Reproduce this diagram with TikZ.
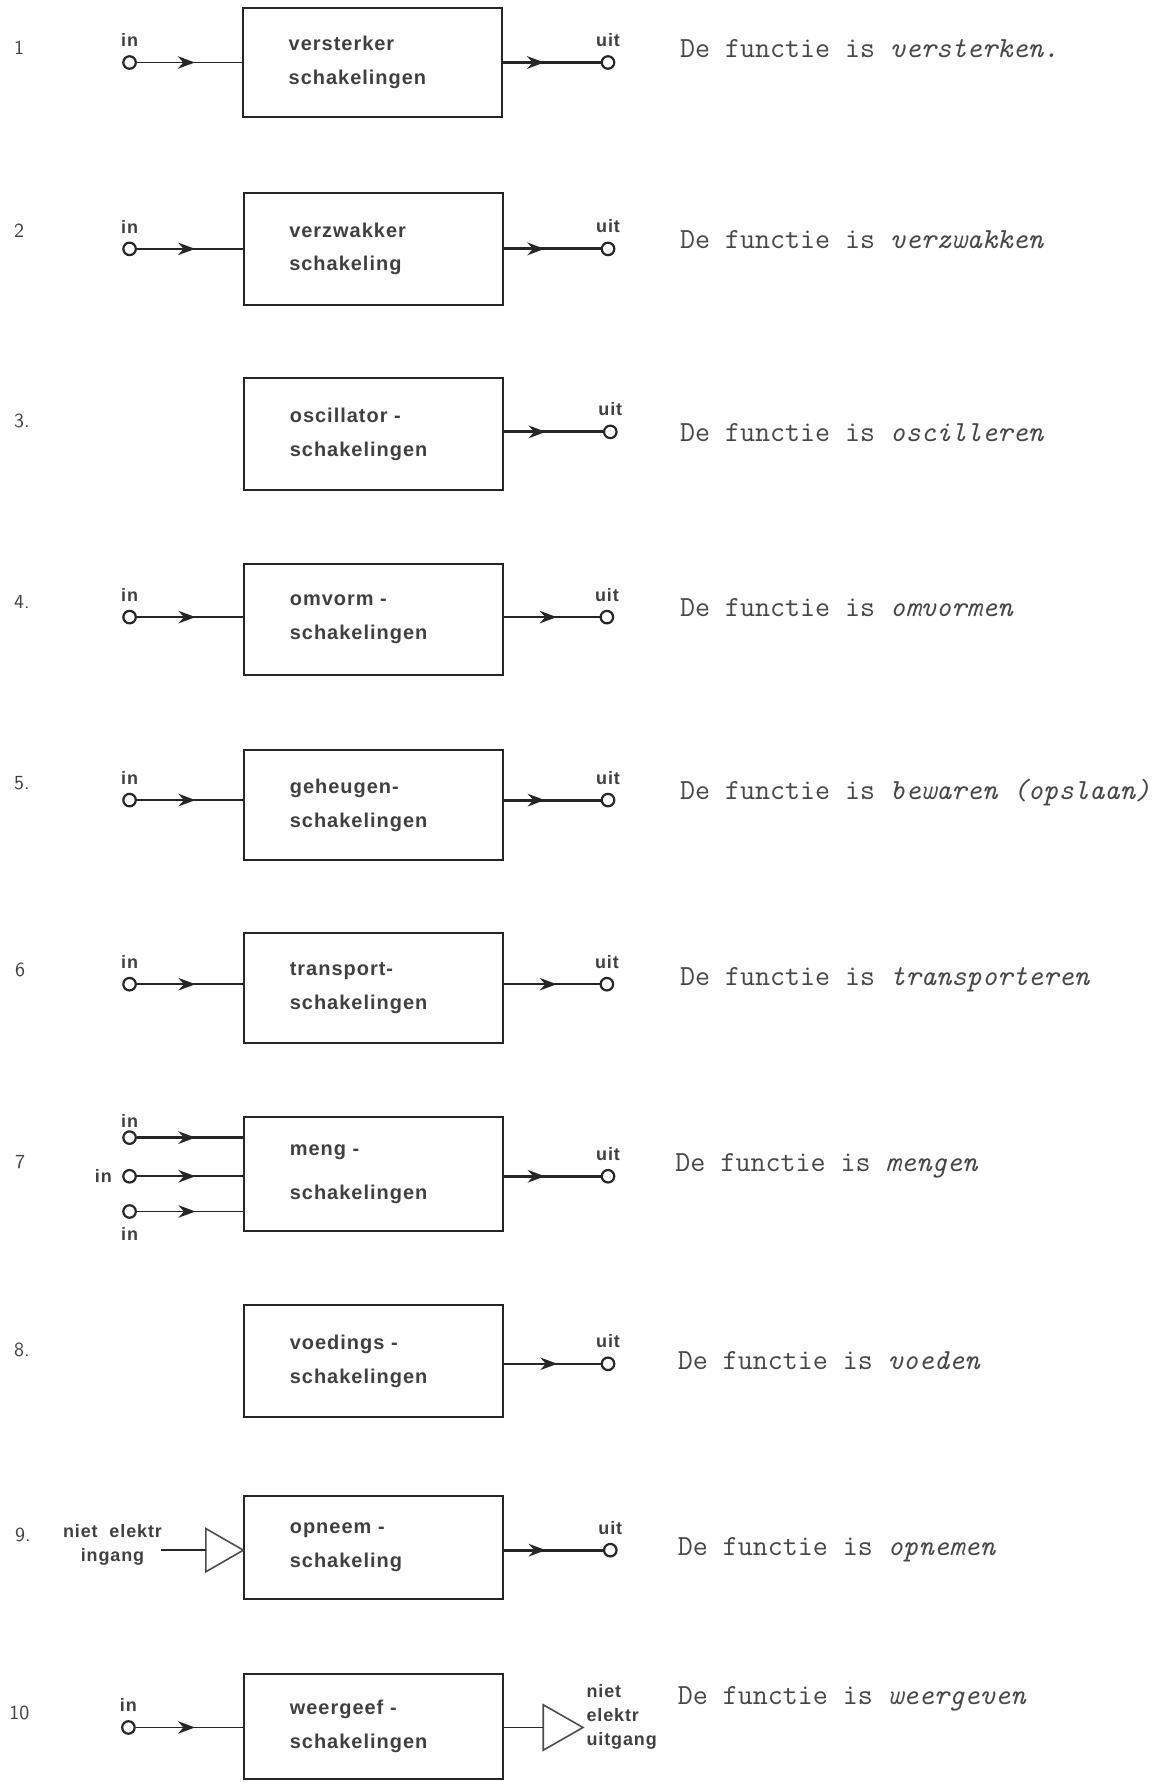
\documentclass[tikz,border=0pt]{standalone}
\usepackage{fontspec}
\newfontfamily\blokfont[LetterSpace=5]{Liberation Sans}
\usetikzlibrary{arrows.meta,decorations.markings,shapes.geometric}

\tikzset{
  blok/.style={draw=black!85, line width=1pt, minimum width=4.56cm, minimum height=#1,
    text width=2.96cm, inner xsep=0.8cm, align=left, text=black!75,
    font=\blokfont\bfseries\fontsize{10}{17}\selectfont},
  blok/.default=1.95cm,
  klem/.style={circle, draw=black!85, line width=1.1pt, minimum size=0.22cm, inner sep=0pt},
  lbl/.style={font=\blokfont\bfseries\fontsize{9}{12}\selectfont, text=black!75, inner sep=1pt},
  nr/.style={anchor=mid west, inner xsep=0pt, font=\sffamily\fontsize{10}{12}\selectfont, text=black!75},
  functie/.style={anchor=mid west, inner xsep=0pt, font=\ttfamily\fontsize{14.6}{16}\selectfont, text=black!72},
  ingang/.style={draw=black!85, line width=0.8pt, postaction={decorate},
    decoration={markings, mark=at position 0.55 with {\arrow{Stealth[length=3mm,width=2.2mm]}}}},
  uitgang/.style={draw=black!85, line width=1.5pt, postaction={decorate},
    decoration={markings, mark=at position 0.42 with {\arrow{Stealth[length=3mm,width=2.2mm]}}}},
  omzetter/.style={isosceles triangle, isosceles triangle stretches, draw=black!70,
    line width=0.8pt, inner sep=0pt, outer sep=0pt, minimum height=#1, minimum width=0.76cm},
  omzetter/.default=0.66cm,
  label distance=3pt
}

\begin{document}
\begin{tikzpicture}[x=0.02cm, y=-0.02cm]
\useasboundingbox (0,0) rectangle (1023,1568);

% 1 versterker
\node[nr] (nr1) at (12,44) {1};
\node[blok=1.92cm] (blok1) at (328,55) {versterker\\schakelingen};
\node[klem, label={[lbl]above:in}] (in1) at (114,55) {};
\node[klem, label={[lbl]above:uit}] (uit1) at (535,55) {};
\draw[ingang] (in1) -- (in1 -| blok1.west);
\draw[uitgang] (uit1 -| blok1.east) -- (uit1);
\node[functie] (f1) at (598,47) {De functie is \textit{versterken.}};

% 2 verzwakker
\node[nr] (nr2) at (12,205) {2};
\node[blok=1.96cm] (blok2) at (328.5,219) {verzwakker\\schakeling};
\node[klem, label={[lbl]above:in}] (in2) at (114,219) {};
\node[klem, label={[lbl]above:uit}] (uit2) at (535,219) {};
\draw[ingang] (in2) -- (in2 -| blok2.west);
\draw[uitgang] (uit2 -| blok2.east) -- (uit2);
\node[functie] (f2) at (598,215) {De functie is \textit{verzwakken}};

% 3 oscillator
\node[nr] (nr3) at (12,372) {3.};
\node[blok=1.96cm] (blok3) at (329,382) {oscillator -\\schakelingen};
\node[klem, label={[lbl]above:uit}] (uit3) at (537,380) {};
\draw[uitgang] (uit3 -| blok3.east) -- (uit3);
\node[functie] (f3) at (598,385) {De functie is \textit{oscilleren}};

% 4 omvorm
\node[nr] (nr4) at (12,532) {4.};
\node[blok=1.96cm] (blok4) at (329,545) {omvorm -\\schakelingen};
\node[klem, label={[lbl]above:in}] (in4) at (114,543) {};
\node[klem, label={[lbl]above:uit}] (uit4) at (534,543) {};
\draw[ingang] (in4) -- (in4 -| blok4.west);
\draw[ingang] (uit4 -| blok4.east) -- (uit4);
\node[functie] (f4) at (598,539) {De functie is \textit{omvormen}};

% 5 geheugen
\node[nr] (nr5) at (12,691) {5.};
\node[blok=1.94cm] (blok5) at (329,708.5) {geheugen-\\schakelingen};
\node[klem, label={[lbl]above:in}] (in5) at (114,704) {};
\node[klem, label={[lbl]above:uit}] (uit5) at (535,704) {};
\draw[ingang] (in5) -- (in5 -| blok5.west);
\draw[uitgang] (uit5 -| blok5.east) -- (uit5);
\node[functie] (f5) at (598,700) {De functie is \textit{bewaren (opslaan)}};

% 6 transport
\node[nr] (nr6) at (13,855) {6};
\node[blok=1.94cm] (blok6) at (329,869.5) {transport-\\schakelingen};
\node[klem, label={[lbl]above:in}] (in6) at (114,866) {};
\node[klem, label={[lbl]above:uit}] (uit6) at (534,866) {};
\draw[ingang] (in6) -- (in6 -| blok6.west);
\draw[ingang] (uit6 -| blok6.east) -- (uit6);
\node[functie] (f6) at (598,863) {De functie is \textit{transporteren}};

% 7 meng
\node[nr] (nr7) at (13,1024) {7};
\node[blok=2cm] (blok7) at (329,1033) {meng -\\[5pt]schakelingen};
\node[klem, label={[lbl, label distance=0pt]above:in}] (in7a) at (114,1001) {};
\node[klem, label={[lbl, label distance=4pt]left:in}] (in7b) at (114,1035) {};
\node[klem, label={[lbl]below:in}] (in7c) at (114,1066) {};
\node[klem, label={[lbl]above:uit}] (uit7) at (535,1035) {};
\draw[ingang, line width=1.2pt] (in7a) -- (in7a -| blok7.west);
\draw[ingang, line width=1.2pt] (in7b) -- (in7b -| blok7.west);
\draw[ingang] (in7c) -- (in7c -| blok7.west);
\draw[uitgang] (uit7 -| blok7.east) -- (uit7);
\node[functie] (f7) at (594,1027) {De functie is \textit{mengen}};

% 8 voedings
\node[nr] (nr8) at (12,1190) {8.};
\node[blok=1.98cm] (blok8) at (329,1197.5) {voedings -\\schakelingen};
\node[klem, label={[lbl]above:uit}] (uit8) at (535,1200) {};
\draw[ingang] (uit8 -| blok8.east) -- (uit8);
\node[functie] (f8) at (596,1201) {De functie is \textit{voeden}};

% 9 opneem
\node[nr] (nr9) at (13,1353) {9.};
\node[blok=1.82cm] (blok9) at (329,1361.5) {opneem -\\schakeling};
\node[omzetter, anchor=apex] (sensor9) at (blok9.west |- 0,1364) {};
\node[lbl, align=center] (ingang9) at (99,1359) {niet\ \ elektr\\ingang};
\coordinate (e9) at (142,1364);
\draw[draw=black!85, line width=0.8pt] (e9) -- (sensor9.lower side);
\node[klem, label={[lbl]above:uit}] (uit9) at (537,1364) {};
\draw[uitgang] (uit9 -| blok9.east) -- (uit9);
\node[functie] (f9) at (596,1365) {De functie is \textit{opnemen}};

% 10 weergeef
\node[nr] (nr10) at (8,1509) {10};
\node[blok=1.84cm] (blok10) at (329,1519) {weergeef -\\schakelingen};
\node[klem, label={[lbl]above:in}] (in10) at (113,1520) {};
\draw[ingang] (in10) -- (in10 -| blok10.west);
\node[omzetter=0.7cm, anchor=apex, minimum width=0.8cm] (weergave10) at (513,1520) {};
\draw[draw=black!85, line width=0.8pt] (weergave10.lower side -| blok10.east) -- (weergave10.lower side);
\node[lbl, anchor=west, align=left] (uitgang10) at (514,1511) {niet\\elektr\\uitgang};
\node[functie] (f10) at (596,1496) {De functie is \textit{weergeven}};
\end{tikzpicture}
\end{document}
